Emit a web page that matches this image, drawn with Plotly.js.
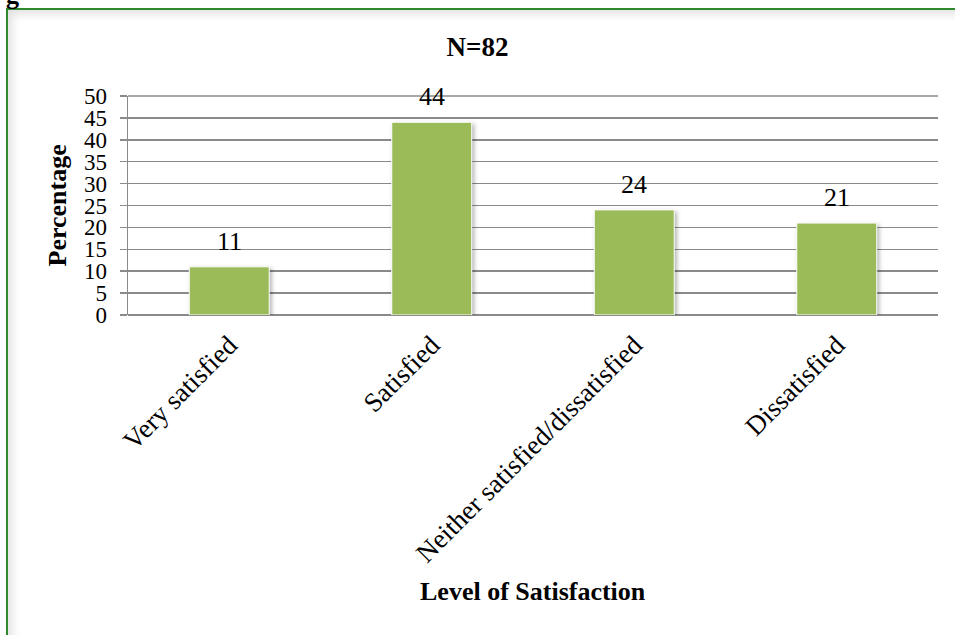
<!DOCTYPE html>
<html>
<head>
<meta charset="utf-8">
<script src="https://cdn.plot.ly/plotly-3.0.1.min.js"></script>
<style>
  html, body { margin: 0; padding: 0; background: #fff; overflow: hidden; }
  #wrap { position: relative; width: 955px; height: 635px; }
  #chart { position: absolute; left: 0; top: 0; width: 955px; height: 635px; }
  #frame { position: absolute; left: 6px; top: 8px; width: 1000px; height: 700px;
           border-left: 2px solid #2f8a2f; border-top: 2px solid #2f8a2f;
           box-shadow: inset 8px 8px 10px -4px rgba(0,0,0,0.12); pointer-events: none; }
  #cap { position: absolute; left: 6px; top: -19px; font: bold 26px "Liberation Serif", serif; color: #000; }
  .bars .point path { filter: drop-shadow(2px 2px 2px rgba(0,0,0,0.3)); }
</style>
</head>
<body>
<div id="wrap">
  <div id="chart"></div>
  <div id="frame"></div>
  <div id="cap">g</div>
</div>
<script>
const categories = ["Very satisfied", "Satisfied", "Neither satisfied/dissatisfied", "Dissatisfied"];
const percentages = [11, 44, 24, 21];
const yTicks = [0, 5, 10, 15, 20, 25, 30, 35, 40, 45, 50];
const chartTitle = "N=82";
const xTitle = "Level of Satisfaction";
const yTitle = "Percentage";

const serif = "Liberation Serif, Times New Roman, serif";
const yMax = yTicks[yTicks.length - 1];

const trace = {
  type: "bar",
  x: categories,
  y: percentages,
  marker: { color: "#9bbb59", line: { color: "#ffffff", width: 1 } },
  hoverinfo: "none"
};

const valueLabels = categories.map((c, i) => ({
  x: c, y: percentages[i], xref: "x", yref: "y",
  text: String(percentages[i]), showarrow: false,
  yanchor: "bottom", yshift: 9,
  font: { family: serif, size: 26, color: "#000" }
}));

const layout = {
  width: 955, height: 635,
  margin: { l: 128, r: 17, t: 96, b: 320 },
  paper_bgcolor: "rgba(0,0,0,0)",
  plot_bgcolor: "rgba(0,0,0,0)",
  showlegend: false,
  bargap: 0.605,
  title: {
    text: "<b>" + chartTitle + "</b>",
    font: { family: serif, size: 27, color: "#000" },
    x: 0.5, xref: "container", xanchor: "center",
    y: 1 - 47 / 635, yref: "container", yanchor: "middle"
  },
  xaxis: {
    type: "category",
    tickangle: -45,
    tickfont: { family: serif, size: 27, color: "#000" },
    ticklabelstandoff: 8,
    showline: false, showgrid: false, ticks: "",
    automargin: false
  },
  yaxis: {
    range: [0, yMax],
    tickvals: yTicks,
    ticktext: yTicks.map(String),
    tickfont: { family: serif, size: 23, color: "#000" },
    ticklabelstandoff: 8,
    showgrid: true, gridcolor: "#8a8a8a", gridwidth: 1.5,
    zeroline: true, zerolinecolor: "#8a8a8a", zerolinewidth: 1.5,
    showline: true, linecolor: "#8a8a8a", linewidth: 1.5,
    ticks: "outside", ticklen: 7, tickcolor: "#8a8a8a", tickwidth: 1.5,
    automargin: false
  },
  shapes: [{
    type: "line", xref: "paper", yref: "paper", x0: 0, x1: 1, y0: 1, y1: 1,
    line: { color: "#8a8a8a", width: 1.5 }, layer: "above"
  }],
  annotations: valueLabels.concat([
    {
      text: "<b>" + xTitle + "</b>", showarrow: false,
      xref: "paper", yref: "paper", x: 0.5, y: -(591 - 315) / 219,
      xanchor: "center", yanchor: "middle",
      font: { family: serif, size: 26, color: "#000" }
    },
    {
      text: "<b>" + yTitle + "</b>", showarrow: false, textangle: -90,
      xref: "paper", yref: "paper", x: -(128 - 57) / 810, y: 0.5,
      xanchor: "center", yanchor: "middle",
      font: { family: serif, size: 26, color: "#000" }
    }
  ])
};

Plotly.newPlot("chart", [trace], layout, { displayModeBar: false, staticPlot: true });
</script>
</body>
</html>
